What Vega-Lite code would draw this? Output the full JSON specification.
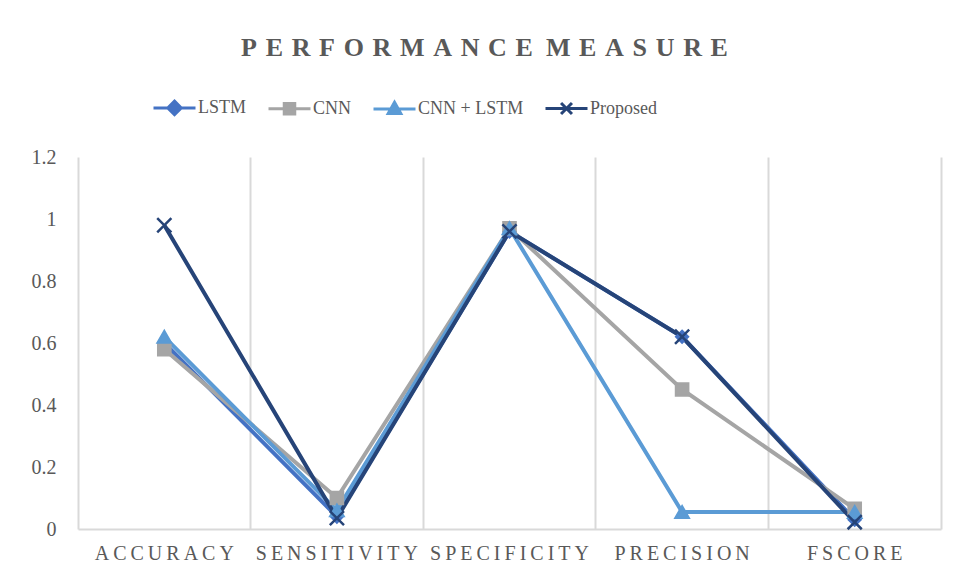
{
  "$schema": "https://vega.github.io/schema/vega-lite/v6.json",
  "width": 863,
  "height": 372,
  "autosize": {"type": "none"},
  "padding": {"left": 78, "top": 157, "right": 18, "bottom": 52},
  "background": "white",
  "config": {"view": {"stroke": null}, "font": "Liberation Serif"},
  "title": {
    "text": "P\u2004E\u2004R\u2004F\u2004O\u2004R\u2004M\u2004A\u2004N\u2004C\u2004E\u2002M\u2004E\u2004A\u2004S\u2004U\u2004R\u2004E",
    "font": "Liberation Serif",
    "fontSize": 26,
    "fontWeight": "bold",
    "color": "#595959",
    "anchor": "middle",
    "frame": "group",
    "dx": -25,
    "offset": 24
  },
  "data": {
    "values": [
      {"metric": "ACCURACY", "series": "LSTM", "value": 0.60},
      {"metric": "SENSITIVITY", "series": "LSTM", "value": 0.04},
      {"metric": "SPECIFICITY", "series": "LSTM", "value": 0.96},
      {"metric": "PRECISION", "series": "LSTM", "value": 0.62},
      {"metric": "FSCORE", "series": "LSTM", "value": 0.03},
      {"metric": "ACCURACY", "series": "CNN", "value": 0.58},
      {"metric": "SENSITIVITY", "series": "CNN", "value": 0.10},
      {"metric": "SPECIFICITY", "series": "CNN", "value": 0.97},
      {"metric": "PRECISION", "series": "CNN", "value": 0.45},
      {"metric": "FSCORE", "series": "CNN", "value": 0.065},
      {"metric": "ACCURACY", "series": "CNN + LSTM", "value": 0.62},
      {"metric": "SENSITIVITY", "series": "CNN + LSTM", "value": 0.06},
      {"metric": "SPECIFICITY", "series": "CNN + LSTM", "value": 0.97},
      {"metric": "PRECISION", "series": "CNN + LSTM", "value": 0.055},
      {"metric": "FSCORE", "series": "CNN + LSTM", "value": 0.055},
      {"metric": "ACCURACY", "series": "Proposed", "value": 0.98},
      {"metric": "SENSITIVITY", "series": "Proposed", "value": 0.035},
      {"metric": "SPECIFICITY", "series": "Proposed", "value": 0.96},
      {"metric": "PRECISION", "series": "Proposed", "value": 0.62},
      {"metric": "FSCORE", "series": "Proposed", "value": 0.022}
    ]
  },
  "encoding": {
    "x": {
      "field": "metric",
      "type": "nominal",
      "sort": ["ACCURACY", "SENSITIVITY", "SPECIFICITY", "PRECISION", "FSCORE"],
      "scale": {"type": "band", "paddingInner": 0, "paddingOuter": 0},
      "axis": {
        "title": null,
        "bandPosition": 0,
        "grid": true,
        "gridColor": "#D9D9D9",
        "gridWidth": 2,
        "ticks": false,
        "tickSize": 0,
        "domainColor": "#D9D9D9",
        "domainWidth": 2,
        "labelFont": "Liberation Serif",
        "labelFontSize": 20,
        "labelColor": "#595959",
        "labelPadding": 14,
        "labelAngle": 0,
        "labelExpr": "join(split(datum.label, ''), '\u2009')"
      }
    },
    "y": {
      "field": "value",
      "type": "quantitative",
      "scale": {"domain": [0, 1.2], "nice": false},
      "axis": {
        "title": null,
        "values": [0, 0.2, 0.4, 0.6, 0.8, 1, 1.2],
        "format": "~g",
        "grid": false,
        "domain": false,
        "ticks": false,
        "tickSize": 0,
        "labelFont": "Liberation Serif",
        "labelFontSize": 20,
        "labelColor": "#595959",
        "labelPadding": 22
      }
    }
  },
  "layer": [
    {
      "mark": {"type": "line", "strokeWidth": 4},
      "encoding": {
        "color": {
          "field": "series",
          "type": "nominal",
          "sort": ["LSTM", "CNN", "CNN + LSTM", "Proposed"],
          "scale": {
            "domain": ["LSTM", "CNN", "CNN + LSTM", "Proposed"],
            "range": ["#4472C4", "#A5A5A5", "#5B9BD5", "#264478"]
          },
          "legend": {
            "title": null,
            "orient": "none",
            "direction": "horizontal",
            "legendX": 74,
            "legendY": -72,
            "symbolSize": 1764,
            "symbolStrokeWidth": 3,
            "labelFont": "Liberation Serif",
            "labelFontSize": 18,
            "labelColor": "#595959",
            "labelOffset": 1,
            "columnPadding": 15,
            "encode": {
              "symbols": {
                "update": {
                  "shape": {"signal": "datum.value === 'LSTM' ? 'M-1,0L1,0M0,-0.32L0.32,0L0,0.32L-0.32,0Z' : datum.value === 'CNN' ? 'M-1,0L1,0M-0.25,-0.25L0.25,-0.25L0.25,0.25L-0.25,0.25Z' : datum.value === 'CNN + LSTM' ? 'M-1,0L1,0M0,-0.32L0.3,0.22L-0.3,0.22Z' : 'M-1,0L1,0M-0.26,-0.26L0.26,0.26M-0.26,0.26L0.26,-0.26'"},
                  "fill": {"scale": "color", "field": "value"},
                  "stroke": {"scale": "color", "field": "value"},
                  "strokeWidth": {"value": 3},
                  "size": {"value": 1764}
                }
              }
            }
          }
        }
      }
    },
    {
      "transform": [{"filter": "datum.series === 'LSTM'"}],
      "mark": {"type": "point", "shape": "diamond", "filled": true, "color": "#4472C4", "stroke": "#4472C4", "strokeWidth": 2, "opacity": 1, "size": 150},
      "encoding": {
        "y": {
          "field": "value",
          "type": "quantitative",
          "axis": {
            "orient": "right",
            "title": null,
            "labels": false,
            "ticks": false,
            "tickSize": 0,
            "grid": false,
            "domain": true,
            "domainColor": "#D9D9D9",
            "domainWidth": 2
          }
        }
      }
    },
    {
      "transform": [{"filter": "datum.series === 'CNN'"}],
      "mark": {"type": "point", "shape": "square", "filled": true, "color": "#A5A5A5", "stroke": "#A5A5A5", "strokeWidth": 2, "opacity": 1, "size": 160},
      "encoding": {
        "y": {"field": "value", "type": "quantitative", "axis": null}
      }
    },
    {
      "transform": [{"filter": "datum.series === 'CNN + LSTM'"}],
      "mark": {"type": "point", "shape": "triangle-up", "filled": true, "color": "#5B9BD5", "stroke": "#5B9BD5", "strokeWidth": 2, "opacity": 1, "size": 190},
      "encoding": {
        "y": {"field": "value", "type": "quantitative", "axis": null}
      }
    },
    {
      "transform": [{"filter": "datum.series === 'Proposed'"}],
      "mark": {"type": "point", "shape": "M-1,-1L1,1M-1,1L1,-1", "filled": false, "color": "#264478", "stroke": "#264478", "strokeWidth": 2.5, "opacity": 1, "size": 200},
      "encoding": {
        "y": {"field": "value", "type": "quantitative", "axis": null}
      }
    }
  ],
  "resolve": {"axis": {"y": "independent"}}
}
